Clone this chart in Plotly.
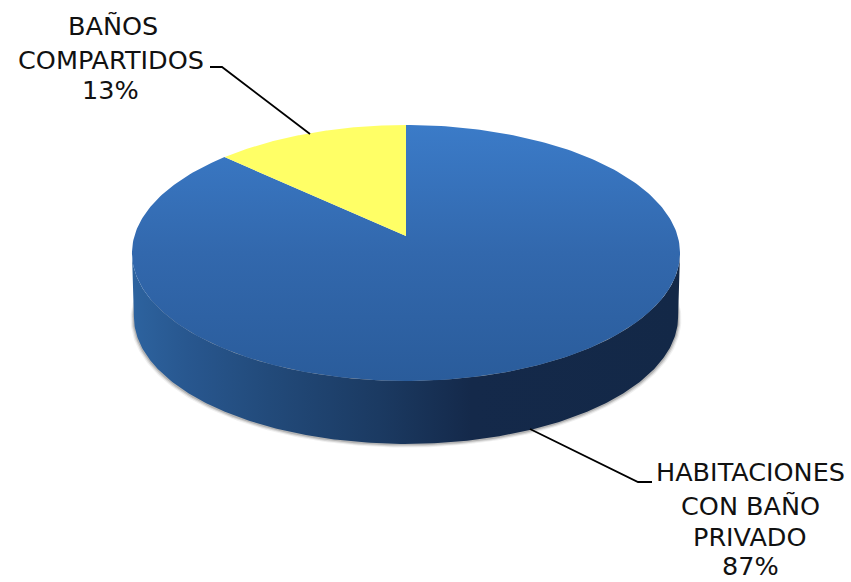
import numpy as np
import plotly.graph_objects as go

# Room types and their share of the total (percent)
categories = ["HABITACIONES CON BAÑO PRIVADO", "BAÑOS COMPARTIDOS"]
shares = [87, 13]
slice_colors = ["#3a78c4", "#ffff66"]
label_lines = [
    ["HABITACIONES", "CON BAÑO", "PRIVADO", "87%"],
    ["BAÑOS", "COMPARTIDOS", "13%"],
]

# Drawing area is measured in page pixels, y pointing down
WIDTH, HEIGHT = 851, 582
CX, CY = 406, 236          # pie centre on the tilted disc
AX, BY = 271.6, 125.7      # projected radii
PERSP = 0.1327             # perspective strength of the tilt
DEPTH = 64                 # height of the side wall
WALL_SCALE = 0.993         # lower rim recedes slightly


def rim(theta, scale=1.0, dy=0.0):
    """Project disc points; theta runs clockwise from twelve o'clock."""
    u, v = np.sin(theta), np.cos(theta)
    w = 1 + PERSP * v
    return CX + scale * AX * u / w, CY + dy - scale * BY * v / w


# The silhouette of the projected disc is widest where cos(theta) = -PERSP
widest = np.degrees(np.arccos(-PERSP))

fig = go.Figure()

# Soft shadow under the disc
lower = np.radians(np.linspace(widest - 8, 360 - widest + 8, 200))
for grow, lift, alpha in [(1.012, 2.0, 0.08), (1.008, 1.5, 0.14), (1.004, 1.0, 0.22)]:
    sx, sy = rim(lower, WALL_SCALE * grow, DEPTH + lift)
    fig.add_trace(go.Scatter(x=sx, y=sy, mode="lines", line=dict(width=0),
                             fill="toself", fillcolor=f"rgba(60,60,60,{alpha})",
                             hoverinfo="skip", showlegend=False))

# Side wall, shaded from left to right
wall = np.radians(np.linspace(widest, 360 - widest, 240))
tx, ty = rim(wall)
bx, by = rim(wall, WALL_SCALE, DEPTH)
fig.add_trace(go.Scatter(
    x=np.r_[tx, bx[::-1]], y=np.r_[ty, by[::-1]], mode="lines", line=dict(width=0),
    fill="toself",
    fillgradient=dict(type="horizontal", colorscale=[
        [0.0, "#2d639f"], [0.10, "#28578f"], [0.25, "#224a7a"], [0.45, "#1b3a62"],
        [0.62, "#14294a"], [1.0, "#132847"]]),
    hoverinfo="skip", showlegend=False))

# Top face: one wedge per category, sized by its share
edges = np.cumsum([0] + shares) / sum(shares) * 2 * np.pi
for i, name in enumerate(categories):
    arc = np.linspace(edges[i], edges[i + 1], 300)
    ax, ay = rim(arc)
    trace = dict(x=np.r_[CX, ax, CX], y=np.r_[CY, ay, CY], mode="lines", name=name,
                 line=dict(width=0), fill="toself", showlegend=False)
    if i == 0:
        trace["fillgradient"] = dict(type="vertical", colorscale=[
            [0.0, "#2a5c9b"], [0.5, "#3268ad"], [1.0, "#3b7bc8"]])
    else:
        trace["fillcolor"] = slice_colors[i]
    fig.add_trace(go.Scatter(**trace))

# Leader lines from the wedges to their labels
leaders = [
    ([530, 638, 652], [429, 482, 482]),
    ([310, 222, 210], [134, 67, 67]),
]
for lx, ly in leaders:
    fig.add_trace(go.Scatter(x=lx, y=ly, mode="lines", line=dict(color="#000000", width=1.8),
                             hoverinfo="skip", showlegend=False))

# Labels, one line at a time
label_x = [[750, 750, 750, 750], [113, 111, 110]]
label_y = [[472, 506, 537, 566], [26, 60, 90]]
for lines, xs, ys in zip(label_lines, label_x, label_y):
    for text, x0, y0 in zip(lines, xs, ys):
        fig.add_annotation(x=x0, y=y0, text=text, showarrow=False, xanchor="center", yanchor="middle",
                           font=dict(family="DejaVu Sans", size=25.5, color="#111111"))

fig.update_layout(
    width=WIDTH, height=HEIGHT, margin=dict(l=0, r=0, t=0, b=0),
    paper_bgcolor="white", plot_bgcolor="white", showlegend=False,
    xaxis=dict(range=[0, WIDTH], visible=False, fixedrange=True),
    yaxis=dict(range=[HEIGHT, 0], visible=False, fixedrange=True),
)
fig.write_html("out.html", config=dict(displayModeBar=False))
